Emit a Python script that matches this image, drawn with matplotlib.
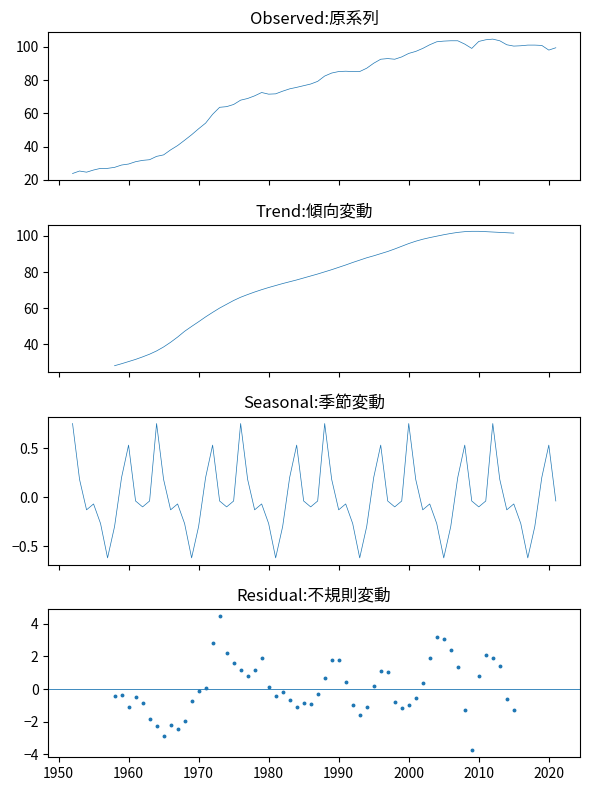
import matplotlib
matplotlib.use("Agg")
import matplotlib.pyplot as plt
import numpy as np

plt.rcParams["font.family"] = ["Noto Sans CJK JP", "DejaVu Sans"]
plt.rcParams["lines.linewidth"] = 0.5

years = np.arange(1952, 2022)
trend_years = np.arange(1958, 2016)

observed = [
    23.8, 25.3, 24.6, 25.9, 26.9, 26.9, 27.5, 28.9, 29.5, 30.9,
    31.7, 32.1, 34.1, 35.0, 38.0, 40.6, 43.8, 47.1, 50.7, 54.1,
    59.4, 63.6, 64.0, 65.3, 67.9, 68.9, 70.5, 72.5, 71.5, 71.7,
    73.3, 74.7, 75.6, 76.6, 77.6, 79.2, 82.4, 84.2, 85.1, 85.3,
    85.1, 85.1, 87.1, 90.1, 92.5, 92.9, 92.5, 93.9, 96.0, 97.2,
    99.0, 101.2, 103.0, 103.4, 103.6, 103.6, 101.6, 99.0, 103.2, 104.2,
    104.6, 103.6, 101.2, 100.4, 100.6, 101.0, 101.0, 100.8, 98.0, 99.4,
]

trend = [
    28.0, 29.1, 30.3, 31.5, 32.9, 34.4, 36.2, 38.4, 41.0, 43.9,
    47.1, 49.8, 52.4, 55.1, 57.6, 60.0, 62.1, 64.2, 66.0, 67.5,
    68.9, 70.2, 71.4, 72.5, 73.6, 74.6, 75.6, 76.7, 77.8, 78.9,
    80.1, 81.3, 82.6, 83.9, 85.3, 86.6, 87.9, 89.0, 90.2, 91.4,
    92.8, 94.3, 95.8, 97.1, 98.2, 99.1, 99.9, 100.7, 101.4, 102.0,
    102.4, 102.6, 102.6, 102.4, 102.2, 102.0, 101.8, 101.6,
]

# one 12-year cycle, repeated over the whole span
season_cycle = [0.75, 0.18, -0.13, -0.07, -0.27, -0.62,
                -0.30, 0.20, 0.53, -0.04, -0.10, -0.04]
seasonal = [season_cycle[i % 12] for i in range(len(years))]

resid = [
    -0.45, -0.39, -1.12, -0.51, -0.87, -1.85, -2.27, -2.88, -2.21, -2.46,
    -1.97, -0.75, -0.14, 0.04, 2.84, 4.49, 2.23, 1.62, 1.14, 0.77,
    1.14, 1.87, 0.10, -0.45, -0.20, -0.69, -1.12, -0.87, -0.93, -0.32,
    0.65, 1.75, 1.75, 0.41, -0.99, -1.60, -1.12, 0.16, 1.08, 1.02,
    -0.81, -1.18, -0.99, -0.57, 0.35, 1.87, 3.21, 3.09, 2.36, 1.32,
    -1.30, -3.74, 0.77, 2.11, 1.87, 1.38, -0.63, -1.30,
]

titles = ["Observed:原系列", "Trend:傾向変動", "Seasonal:季節変動", "Residual:不規則変動"]

fig, axes = plt.subplots(4, 1, sharex=True, figsize=(5.9, 7.9), dpi=100)
fig.subplots_adjust(left=0.082, right=0.983, top=0.959, bottom=0.042, hspace=0.30)

axes[0].plot(years, observed, color="C0")
axes[1].plot(trend_years, trend, color="C0")
axes[2].plot(years, seasonal, color="C0")
axes[3].plot(trend_years, resid, marker="o", linestyle="none", markersize=1.8, color="C0")
axes[3].axhline(0, color="C0", linewidth=0.6, zorder=-3)

for ax, t in zip(axes, titles):
    ax.set_title(t, fontsize=12)
    ax.tick_params(labelsize=10)

axes[3].set_xlim(years[0] - 3.45, years[-1] + 3.45)
axes[1].set_yticks([40, 60, 80, 100])

fig.savefig("out.png", dpi=100)
